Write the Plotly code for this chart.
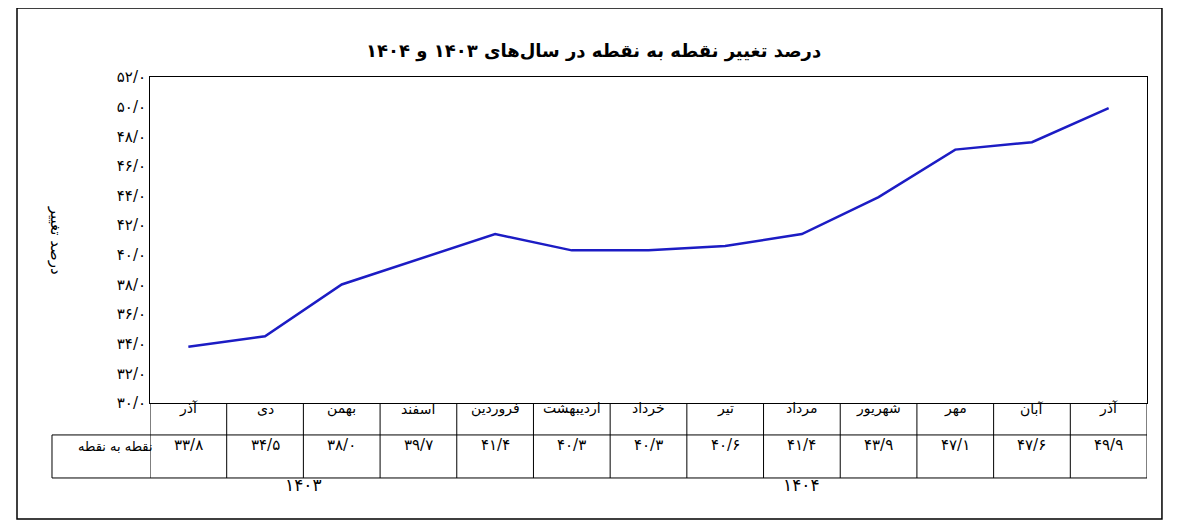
import plotly.graph_objects as go

months = ["آذر", "دی", "بهمن", "اسفند", "فروردین", "اردیبهشت", "خرداد", "تیر",
          "مرداد", "شهریور", "مهر", "آبان", "آذر"]
values = [33.8, 34.5, 38.0, 39.7, 41.4, 40.3, 40.3, 40.6, 41.4, 43.9, 47.1, 47.6, 49.9]
y_ticks = list(range(30, 53, 2))
years = ["1403", "1404"]
year_pos = [1.5, 8.0]

FA = str.maketrans("0123456789", "۰۱۲۳۴۵۶۷۸۹")


def fa(v):
    return f"{v:.1f}".replace(".", "/").translate(FA)


FONT = "DejaVu Sans"
x = list(range(len(months)))

fig = go.Figure()
fig.add_trace(go.Scatter(x=x, y=values, mode="lines",
                         line=dict(color="#1c1cc4", width=2.5),
                         hoverinfo="skip", showlegend=False))

shapes = []
# table vertical lines
for k in range(len(months) + 1):
    shapes.append(dict(type="line", xref="x", yref="paper", x0=k - 0.5, x1=k - 0.5,
                       y0=-0.230, y1=0, line=dict(color="black", width=1)))
for yy in [-0.098, -0.230]:
    shapes.append(dict(type="line", xref="paper", yref="paper", x0=-0.0983, x1=1,
                       y0=yy, y1=yy, line=dict(color="black", width=1)))
shapes.append(dict(type="line", xref="paper", yref="paper", x0=-0.0983, x1=-0.0983,
                   y0=-0.098, y1=-0.230, line=dict(color="black", width=1)))
# outer border
shapes.append(dict(type="rect", xref="paper", yref="paper", x0=-0.1334, x1=1.015,
                   y0=-0.356, y1=1.2117, line=dict(color="black", width=1.5)))

ann = []
for i, m in enumerate(months):
    ann.append(dict(x=i, y=-0.049, xref="x", yref="paper", text=m, showarrow=False,
                    font=dict(family=FONT, size=14, color="black")))
    ann.append(dict(x=i, y=-0.163, xref="x", yref="paper", text=fa(values[i]),
                    showarrow=False, font=dict(family=FONT, size=15, color="black")))
ann.append(dict(x=-0.074, y=-0.163, xref="paper", yref="paper", text="نقطه به نقطه",
                showarrow=False, font=dict(family=FONT, size=13, color="black")))
for yr, p in zip(years, year_pos):
    ann.append(dict(x=p, y=-0.288, xref="x", yref="paper", text=yr.translate(FA),
                    showarrow=False, font=dict(family=FONT, size=17, color="black")))
ann.append(dict(x=-0.105, y=0.5, xref="paper", yref="paper", text="درصد تغییر",
                textangle=90, showarrow=False,
                font=dict(family=FONT, size=15, color="black")))
ann.append(dict(x=0.445, y=1.12, xref="paper", yref="paper",
                text="<b>درصد تغییر نقطه به نقطه در سال‌های ۱۴۰۳ و ۱۴۰۴</b>",
                showarrow=False, font=dict(family=FONT, size=18, color="black")))

fig.update_layout(
    width=1179, height=521,
    margin=dict(l=142, r=40, t=69, b=126),
    paper_bgcolor="white", plot_bgcolor="white",
    shapes=shapes, annotations=ann,
    xaxis=dict(range=[-0.5, len(months) - 0.5], showticklabels=False, showgrid=False,
               zeroline=False, showline=True, mirror=True, linecolor="black", linewidth=1),
    yaxis=dict(range=[30, 52], tickvals=y_ticks, ticktext=[fa(v) for v in y_ticks],
               showgrid=False, zeroline=False, showline=True, mirror=True,
               linecolor="black", linewidth=1, ticks="", ticklen=0,
               tickfont=dict(family=FONT, size=15, color="black")),
)

fig.write_html("out.html")
